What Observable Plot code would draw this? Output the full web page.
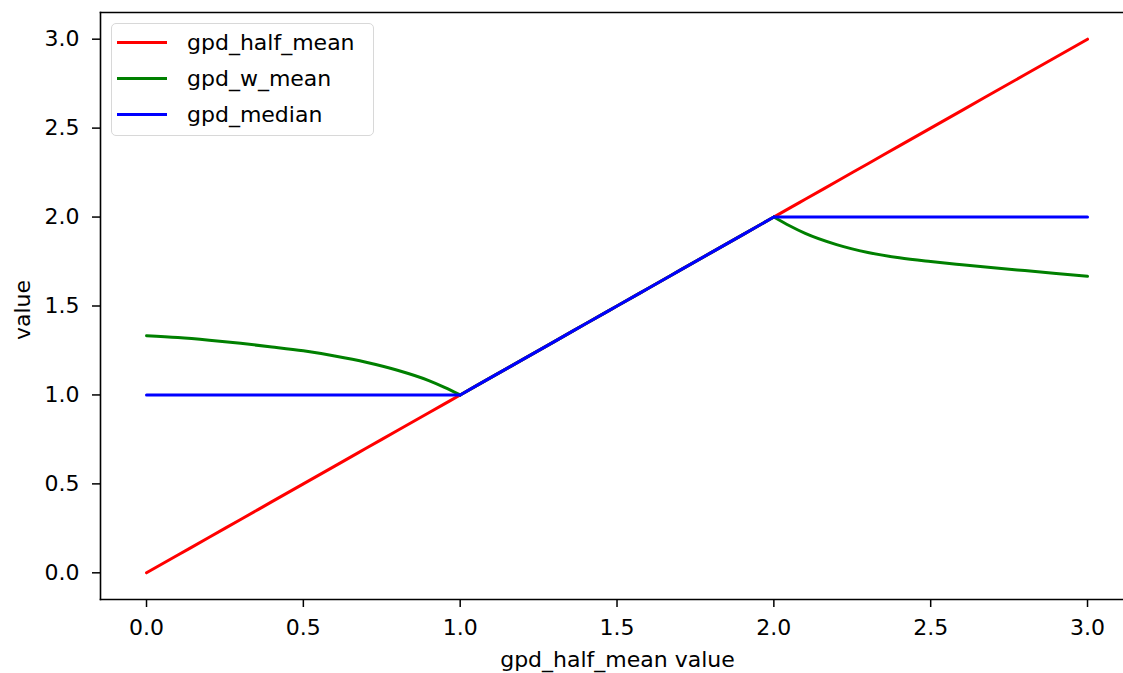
<!DOCTYPE html>
<html>
<head>
<meta charset="utf-8">
<script src="https://cdn.jsdelivr.net/npm/d3@7"></script>
<script src="https://cdn.jsdelivr.net/npm/@observablehq/plot@0.6"></script>
<style>
  html, body { margin: 0; padding: 0; background: white; }
  #wrap { position: relative; width: 1123px; height: 673px; overflow: hidden; font-family: "DejaVu Sans", sans-serif; }
  #legend { position: absolute; left: 111px; top: 23px; width: 263px; height: 113px; background: rgba(255,255,255,0.8);
            border: 1.5px solid #d8d8d8; border-radius: 5px; box-sizing: border-box; }
  .item { position: absolute; left: 5px; height: 24px; display: flex; align-items: center; font-size: 22px; color: #000; }
  .item .sw { width: 50px; height: 3px; margin-right: 20px; }
</style>
</head>
<body>
<div id="wrap"></div>
<script>
// x positions (gpd_half_mean value)
const xs = [0.0, 0.1, 0.2, 0.3, 0.4, 0.5, 0.6, 0.7, 0.8, 0.9, 0.95, 1.0,
            1.1, 1.2, 1.3, 1.4, 1.5, 1.6, 1.7, 1.8, 1.9, 2.0,
            2.05, 2.1, 2.2, 2.3, 2.4, 2.5, 2.6, 2.7, 2.8, 2.9, 3.0];
const halfMean = [0.0, 0.1, 0.2, 0.3, 0.4, 0.5, 0.6, 0.7, 0.8, 0.9, 0.95, 1.0,
            1.1, 1.2, 1.3, 1.4, 1.5, 1.6, 1.7, 1.8, 1.9, 2.0,
            2.05, 2.1, 2.2, 2.3, 2.4, 2.5, 2.6, 2.7, 2.8, 2.9, 3.0];
const wMean = [1.333, 1.323, 1.308, 1.290, 1.270, 1.248, 1.219, 1.184, 1.139, 1.081, 1.043, 1.0,
            1.1, 1.2, 1.3, 1.4, 1.5, 1.6, 1.7, 1.8, 1.9, 2.0,
            1.951, 1.908, 1.845, 1.801, 1.771, 1.750, 1.732, 1.715, 1.699, 1.683, 1.667];
const median = [1.0, 1.0, 1.0, 1.0, 1.0, 1.0, 1.0, 1.0, 1.0, 1.0, 1.0, 1.0,
            1.1, 1.2, 1.3, 1.4, 1.5, 1.6, 1.7, 1.8, 1.9, 2.0,
            2.0, 2.0, 2.0, 2.0, 2.0, 2.0, 2.0, 2.0, 2.0, 2.0, 2.0];
const breaks = [1.0, 2.0];
const seriesNames = ["gpd_half_mean", "gpd_w_mean", "gpd_median"];
const seriesColors = ["#ff0000", "#008000", "#0000ff"];
const xTicks = [0.0, 0.5, 1.0, 1.5, 2.0, 2.5, 3.0];
const yTicks = [0.0, 0.5, 1.0, 1.5, 2.0, 2.5, 3.0];
const xLabel = "gpd_half_mean value";
const yLabel = "value";

// build rows split into piecewise segments (shared points at breaks duplicated)
const seriesValues = [halfMean, wMean, median];
const rows = [];
seriesNames.forEach((name, i) => {
  const bounds = [-Infinity, ...breaks, Infinity];
  for (let s = 0; s < bounds.length - 1; s++) {
    xs.forEach((x, j) => {
      if (x >= bounds[s] && x <= bounds[s + 1]) {
        rows.push({series: name, seg: name + s, x, y: seriesValues[i][j]});
      }
    });
  }
});

const chart = Plot.plot({
  width: 1123,
  height: 673,
  marginLeft: 100,
  marginRight: 0,
  marginTop: 12,
  marginBottom: 74,
  x: {domain: [-0.1467, 3.1147]},
  y: {domain: [-0.15, 3.15]},
  color: {domain: seriesNames, range: seriesColors},
  style: {fontFamily: "DejaVu Sans", fontSize: "22px", color: "#000", background: "white", overflow: "visible"},
  marks: [
    Plot.axisX({ticks: xTicks, tickSize: 8, tickPadding: 12, tickFormat: d => d.toFixed(1), label: null, strokeWidth: 1.5, fontSize: 22}),
    Plot.axisY({ticks: yTicks, tickSize: 8, tickPadding: 13, tickFormat: d => d.toFixed(1), label: null, strokeWidth: 1.5, fontSize: 22}),
    Plot.line(rows, {x: "x", y: "y", z: "seg", stroke: "series", strokeWidth: 3, curve: "monotone-x"}),
    Plot.frame({anchor: "top", stroke: "#000", strokeWidth: 1.6}),
    Plot.frame({anchor: "left", stroke: "#000", strokeWidth: 1.6}),
    Plot.frame({anchor: "bottom", stroke: "#000", strokeWidth: 1.6}),
    Plot.text([xLabel], {frameAnchor: "bottom", textAnchor: "middle", lineAnchor: "middle", dy: 60, dx: 5.5, fontSize: 22}),
    Plot.text([yLabel], {frameAnchor: "left", textAnchor: "middle", lineAnchor: "middle", rotate: -90, dx: -78, dy: 4, fontSize: 22})
  ]
});

const wrap = document.getElementById("wrap");
wrap.appendChild(chart);

const legend = document.createElement("div");
legend.id = "legend";
seriesNames.forEach((name, i) => {
  const item = document.createElement("div");
  item.className = "item";
  item.style.top = (6 + i * 36.3) + "px";
  const sw = document.createElement("span");
  sw.className = "sw";
  sw.style.background = seriesColors[i];
  const t = document.createElement("span");
  t.textContent = name;
  item.appendChild(sw);
  item.appendChild(t);
  legend.appendChild(item);
});
wrap.appendChild(legend);
</script>
</body>
</html>
